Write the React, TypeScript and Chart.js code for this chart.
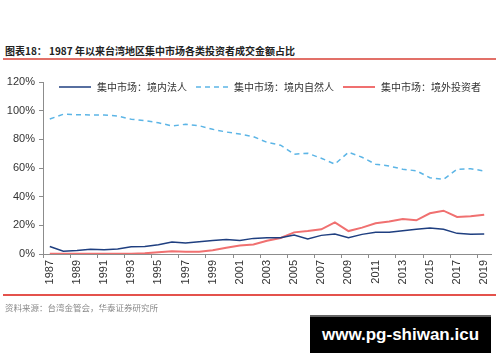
import React, { useEffect, useRef } from "react";
import { Chart, registerables } from "chart.js";

Chart.register(...registerables);

const years: string[] = [
  "1987", "1988", "1989", "1990", "1991", "1992", "1993", "1994", "1995", "1996",
  "1997", "1998", "1999", "2000", "2001", "2002", "2003", "2004", "2005", "2006",
  "2007", "2008", "2009", "2010", "2011", "2012", "2013", "2014", "2015", "2016",
  "2017", "2018", "2019",
];

const seriesNames: string[] = [
  "集中市场：境内法人",
  "集中市场：境内自然人",
  "集中市场：境外投资者",
];

// 境内法人 (%)
const domesticInstitutions: number[] = [
  5.2, 2.0, 2.4, 3.3, 2.9, 3.5, 5.1, 5.3, 6.5, 8.4,
  7.6, 8.6, 9.5, 10.2, 9.5, 10.9, 11.4, 11.4, 13.3, 10.5,
  13.0, 13.9, 11.4, 13.7, 15.1, 15.1, 16.3, 17.2, 18.1, 17.2,
  14.4, 13.7, 14.0,
];

// 境内自然人 (%)
const domesticIndividuals: number[] = [
  94.2, 97.5, 97.2, 97.0, 97.0, 96.3, 94.0, 93.0, 91.6, 89.3,
  90.5, 89.5, 87.0, 85.1, 83.7, 81.9, 77.9, 75.9, 69.6, 70.3,
  66.8, 62.7, 71.0, 67.5, 62.6, 61.4, 59.1, 58.1, 53.2, 52.1,
  59.1, 59.5, 57.9,
];

// 境外投资者 (%)
const foreignInvestors: number[] = [
  0.2, 0.1, 0.1, 0.1, 0.1, 0.1, 0.2, 0.5, 1.2, 1.9,
  1.6, 1.6, 2.6, 4.4, 6.0, 6.7, 9.3, 11.2, 15.1, 16.0,
  17.2, 22.0, 16.0, 18.4, 21.4, 22.6, 24.4, 23.5, 28.4, 30.2,
  25.8, 26.3, 27.4,
];

const yTicks: number[] = [0, 20, 40, 60, 80, 100, 120];

const legendPlugin = {
  id: "customLegend",
  afterDraw(chart: any) {
    const ctx = chart.ctx;
    const { left, top } = chart.chartArea;
    let x = left + 16;
    const y = top + 5;
    ctx.save();
    ctx.font = '10px "Noto Sans CJK SC"';
    ctx.textBaseline = "middle";
    ctx.textAlign = "left";
    chart.data.datasets.forEach((ds: any) => {
      ctx.strokeStyle = ds.borderColor;
      ctx.lineWidth = ds.borderWidth;
      ctx.setLineDash(ds.borderDash || []);
      ctx.beginPath();
      ctx.moveTo(x, y);
      ctx.lineTo(x + 32, y);
      ctx.stroke();
      ctx.setLineDash([]);
      ctx.fillStyle = "#333";
      ctx.fillText(ds.label, x + 38, y);
      x += 38 + ctx.measureText(ds.label).width + 9;
    });
    ctx.restore();
  },
};

function LineChart() {
  const ref = useRef<HTMLCanvasElement | null>(null);
  useEffect(() => {
    if (!ref.current) return;
    const chart = new Chart(ref.current, {
      type: "line",
      data: {
        labels: years,
        datasets: [
          {
            label: seriesNames[0],
            data: domesticInstitutions,
            borderColor: "#1f3f80",
            borderWidth: 1.5,
            pointRadius: 0,
            tension: 0,
          },
          {
            label: seriesNames[1],
            data: domesticIndividuals,
            borderColor: "#5cb5e6",
            borderWidth: 1.5,
            borderDash: [5, 4],
            pointRadius: 0,
            tension: 0,
          },
          {
            label: seriesNames[2],
            data: foreignInvestors,
            borderColor: "#f07070",
            borderWidth: 2,
            pointRadius: 0,
            tension: 0,
          },
        ],
      },
      options: {
        responsive: false,
        animation: false,
        devicePixelRatio: 1,
        layout: { padding: { top: 20, right: 9, left: 0, bottom: 0 } },
        plugins: {
          legend: { display: false },
          tooltip: { enabled: false },
        },
        scales: {
          x: {
            offset: true,
            afterFit: (scale: any) => {
              scale.height = 46;
            },
            grid: {
              offset: true,
              drawOnChartArea: false,
              drawTicks: true,
              tickLength: 4,
              color: (c: any) => (typeof c.index === "number" && c.index % 2 === 0 ? "#8c8c8c" : "rgba(0,0,0,0)"),
            },
            border: { display: true, color: "#8c8c8c", width: 1 },
            ticks: {
              autoSkip: false,
              minRotation: 90,
              maxRotation: 90,
              padding: 2,
              color: "#333",
              font: { family: "'Liberation Sans', Arial, sans-serif", size: 11 },
              callback: (_v: any, i: number) => (i % 2 === 0 ? years[i] : ""),
            },
          },
          y: {
            min: yTicks[0],
            max: yTicks[yTicks.length - 1],
            afterFit: (scale: any) => {
              scale.width = 43;
            },
            afterBuildTicks: (scale: any) => {
              scale.ticks = yTicks.map((v) => ({ value: v }));
            },
            grid: {
              drawOnChartArea: false,
              drawTicks: true,
              tickLength: 4,
              color: "#8c8c8c",
            },
            border: { display: true, color: "#8c8c8c", width: 1 },
            ticks: {
              padding: 4,
              color: "#333",
              font: { family: "'Liberation Sans', Arial, sans-serif", size: 11 },
              callback: (v: any) => `${v}%`,
            },
          },
        },
      },
      plugins: [legendPlugin],
    });
    return () => chart.destroy();
  }, []);
  return (
    <canvas
      ref={ref}
      width={500}
      height={238}
      style={{ position: "absolute", left: 0, top: 62, width: 500, height: 238 }}
    />
  );
}

export default function App() {
  return (
    <div
      style={{
        position: "absolute",
        left: 0,
        top: 0,
        width: 500,
        height: 362,
        overflow: "hidden",
        background: "#fff",
      }}
    >
      <div
        style={{
          position: "absolute",
          left: 5,
          top: 44,
          fontFamily: "'Noto Sans CJK SC', sans-serif",
          fontSize: 10,
          fontWeight: 700,
          color: "#222",
          whiteSpace: "nowrap",
          lineHeight: "14px",
        }}
      >
        图表18： 1987 年以来台湾地区集中市场各类投资者成交金额占比
      </div>
      <div
        style={{
          position: "absolute",
          left: 3,
          top: 58,
          width: 493,
          height: 2,
          background: "#e27068",
        }}
      />
      <LineChart />
      <div
        style={{
          position: "absolute",
          left: 3,
          top: 294,
          width: 493,
          height: 1.5,
          background: "#e4524c",
        }}
      />
      <div
        style={{
          position: "absolute",
          left: 5,
          top: 301,
          fontFamily: "'Noto Sans CJK SC', sans-serif",
          fontSize: 8.5,
          color: "#8a8a8a",
          whiteSpace: "nowrap",
          lineHeight: "12px",
        }}
      >
        资料来源：台湾金管会，华泰证券研究所
      </div>
      <div
        style={{
          position: "absolute",
          left: 310,
          top: 315,
          width: 181,
          height: 38,
          background: "#000",
          borderTop: "2px solid #666",
          boxSizing: "border-box",
          color: "#fff",
          fontFamily: "'Liberation Sans', Arial, sans-serif",
          fontWeight: 700,
          fontSize: 17,
          lineHeight: "36px",
          textAlign: "center",
          whiteSpace: "nowrap",
        }}
      >
        www.pg-shiwan.icu
      </div>
    </div>
  );
}
